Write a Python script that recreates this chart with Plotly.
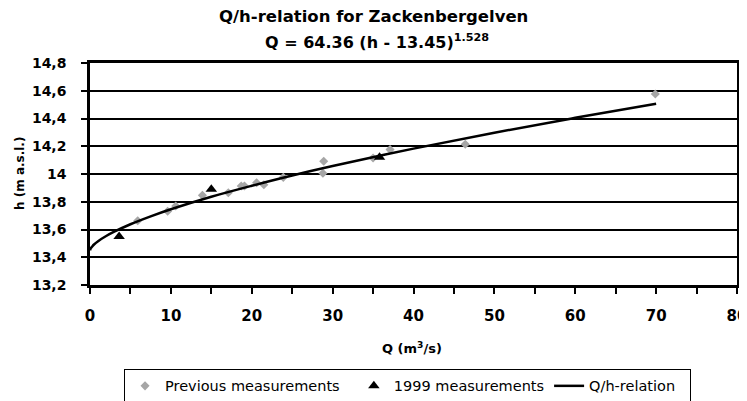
import plotly.graph_objects as go

# Previous measurements
prev_q = [5.9, 9.6, 10.6, 13.9, 17.1, 18.7, 19.1, 20.6, 21.5, 23.9, 28.9, 28.8, 35.0, 37.1, 46.4, 69.9]
prev_h = [13.663, 13.731, 13.769, 13.846, 13.865, 13.913, 13.913, 13.937, 13.923, 13.976, 14.092, 14.005, 14.115, 14.176, 14.214, 14.577]

# 1999 measurements
m99_q = [3.6, 15.0, 35.8]
m99_h = [13.55, 13.89, 14.12]

# Q/h-relation curve
rel_q = [0, 0.1, 0.25, 0.5, 1, 2, 3, 5, 7.5, 10, 15, 20, 25, 30, 40, 50, 60, 70]
rel_h = [13.45, 13.465, 13.476, 13.492, 13.516, 13.553, 13.584, 13.638, 13.695, 13.746,
         13.836, 13.915, 13.989, 14.057, 14.183, 14.298, 14.405, 14.507]

y_ticks = [13.2, 13.4, 13.6, 13.8, 14.0, 14.2, 14.4, 14.6, 14.8]
y_ticktext = ["13,2", "13,4", "13,6", "13,8", "14", "14,2", "14,4", "14,6", "14,8"]
x_ticks = [0, 10, 20, 30, 40, 50, 60, 70, 80]
x_ticktext = ["0", "10", "20", "30", "40", "50", "60", "70", "80"]

FONT = "DejaVu Sans"
NB = "\u00a0"

# The page body has an 8px default margin, so the figure is 8px smaller
# than the window and all margins are measured from that offset.
W, H = 739, 393

fig = go.Figure()
fig.add_trace(go.Scatter(x=prev_q, y=prev_h, mode="markers",
                         name="Previous measurements" + NB * 2,
                         marker=dict(symbol="diamond", size=7, color="#A6A6A6")))
fig.add_trace(go.Scatter(x=m99_q, y=m99_h, mode="markers", name="1999 measurements",
                         marker=dict(symbol="triangle-up", size=10, color="black")))
fig.add_trace(go.Scatter(x=rel_q, y=rel_h, mode="lines", name="Q/h-relation" + NB * 2,
                         line=dict(color="black", width=2.5, shape="spline")))

fig.update_layout(
    width=W, height=H,
    margin=dict(l=82, r=10, t=55, b=116, autoexpand=False),
    paper_bgcolor="white", plot_bgcolor="white",
    font=dict(family=FONT, color="black"),
    showlegend=True,
    legend=dict(orientation="h", x=0.0526, y=-0.378, xanchor="left", yanchor="top",
                bordercolor="black", borderwidth=1, font=dict(size=14.5, family=FONT),
                tracegroupgap=0),
    annotations=[
        dict(text="<b>Q/h-relation for Zackenbergelven</b>", x=(373 - 90) / 647, xref="paper",
             y=1, yref="paper", yanchor="middle", yshift=47, showarrow=False,
             font=dict(size=16.5, family=FONT)),
        dict(text="<b>Q = 64.36 (h - 13.45)<sup>1.528</sup></b>", x=(377 - 90) / 647,
             xref="paper", y=1, yref="paper", yanchor="middle", yshift=22, showarrow=False,
             font=dict(size=16, family=FONT)),
        dict(text="<b>h (m a.s.l.)</b>", x=0, xref="paper", xanchor="center",
             xshift=-70, y=0.5, yref="paper", textangle=-90, showarrow=False,
             font=dict(size=12, family=FONT)),
        dict(text="<b>Q (m<sup>3</sup>/s)</b>", x=(412 - 90) / 647, xref="paper", y=0,
             yref="paper", yanchor="middle", yshift=-63, showarrow=False,
             font=dict(size=13, family=FONT)),
    ],
)

fig.update_xaxes(range=[0, 80], tickvals=x_ticks, ticktext=x_ticktext, ticks="outside",
                 ticklen=6, tickwidth=2, tickcolor="black", showline=True, linecolor="black",
                 linewidth=2.5, mirror=True, showgrid=False, zeroline=False,
                 ticklabelstandoff=9, automargin=False, ticklabeloverflow="allow",
                 minor=dict(dtick=5, ticks="outside", ticklen=6, tickwidth=2, tickcolor="black"),
                 tickfont=dict(size=15, family=FONT, color="black", weight="bold"))
fig.update_yaxes(range=[13.2, 14.8], tickvals=y_ticks, ticktext=y_ticktext, ticks="outside",
                 ticklen=6, tickwidth=2, tickcolor="black", showline=True, linecolor="black",
                 linewidth=2.5, mirror=True, showgrid=True, gridcolor="black", gridwidth=2,
                 zeroline=False, ticklabelstandoff=12, automargin=False,
                 ticklabeloverflow="allow",
                 tickfont=dict(size=14, family=FONT, color="black", weight="bold"))

fig.write_html("out.html")
